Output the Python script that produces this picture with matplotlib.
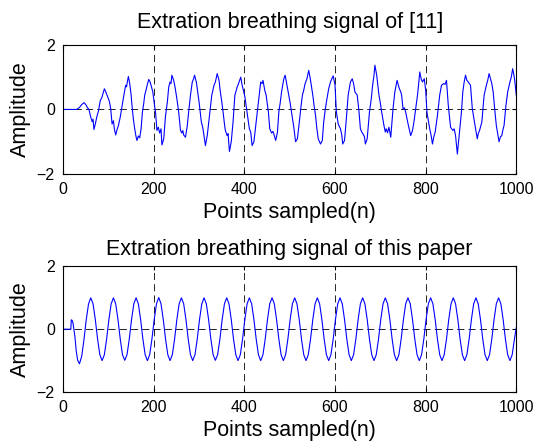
import matplotlib
matplotlib.use("Agg")
import matplotlib.pyplot as plt

# ================= DATA =================

# top panel: breathing signal extracted with the method of [11]
top_n = [
    0, 10, 20, 30, 36, 41, 46, 50, 54, 57, 61, 64, 66, 68, 71, 75, 78, 82, 85, 88,
    91, 94, 98, 102, 105, 108, 111, 113, 116, 119, 122, 126, 130, 134, 138, 140, 142, 144, 147, 150,
    152, 155, 158, 161, 163, 166, 169, 172, 175, 178, 180, 183, 186, 189, 192, 195, 198, 201, 204, 207,
    210, 213, 216, 218, 222, 226, 230, 233, 236, 238, 240, 244, 247, 251, 255, 259, 262, 264, 266, 270,
    274, 277, 281, 285, 288, 290, 294, 297, 300, 305, 308, 310, 314, 318, 320, 323, 328, 333, 336, 340,
    344, 347, 350, 353, 356, 358, 362, 364, 367, 371, 375, 379, 384, 387, 392, 395, 397, 401, 404, 407,
    411, 414, 417, 421, 425, 430, 433, 436, 439, 441, 445, 448, 453, 456, 460, 463, 465, 469, 473, 476,
    479, 482, 487, 490, 494, 498, 501, 504, 509, 513, 517, 520, 522, 525, 528, 531, 534, 538, 542, 546,
    551, 554, 557, 560, 563, 568, 572, 575, 578, 581, 586, 590, 593, 596, 600, 603, 607, 612, 615, 617,
    621, 625, 629, 634, 638, 641, 644, 649, 653, 656, 659, 662, 665, 667, 671, 676, 680, 683, 686, 688,
    692, 695, 697, 700, 703, 708, 711, 713, 716, 719, 723, 728, 732, 737, 742, 745, 747, 750, 753, 756,
    759, 762, 767, 771, 774, 777, 782, 785, 787, 790, 793, 797, 800, 803, 806, 809, 812, 815, 818, 821,
    826, 831, 835, 840, 843, 846, 850, 855, 860, 863, 866, 870, 874, 879, 882, 885, 888, 891, 894, 899,
    903, 906, 909, 914, 916, 919, 924, 929, 934, 937, 940, 943, 946, 949, 953, 956, 959, 962, 965, 968,
    971, 973, 977, 981, 986, 989, 992, 995, 997, 1000,
]
top_v = [
    0.00, 0.00, 0.00, 0.00, 0.06, 0.15, 0.21, 0.15, 0.05, 0.00, -0.24, -0.38, -0.30, -0.62, -0.45, -0.19, -0.05, 0.28, 0.35, 0.50,
    0.64, 0.55, 0.40, 0.25, 0.02, -0.45, -0.35, -0.60, -0.79, -0.62, -0.50, -0.24, 0.10, 0.44, 0.75, 0.70, 0.88, 1.02, 0.80, 0.45,
    0.12, -0.30, -0.60, -0.85, -0.96, -0.82, -0.88, -0.60, -0.08, 0.20, 0.44, 0.60, 0.78, 0.93, 0.85, 0.70, 0.54, 0.20, -0.10, -0.65,
    -0.55, -0.73, -0.60, -1.10, -0.91, -0.19, 0.23, 0.69, 0.85, 0.80, 1.06, 0.90, 0.69, 0.33, -0.08, -0.65, -0.73, -0.65, -0.79, -0.86,
    -0.50, -0.08, 0.44, 0.85, 0.95, 1.06, 0.85, 0.55, 0.23, -0.39, -0.55, -0.73, -1.12, -0.81, -0.55, -0.19, 0.44, 0.75, 0.85, 1.11,
    0.90, 0.54, 0.25, -0.08, -0.45, -0.65, -0.81, -0.75, -1.30, -1.00, -0.39, 0.44, 0.69, 0.80, 1.00, 0.75, 0.64, 0.40, 0.10, -0.20,
    -0.60, -0.70, -1.12, -1.00, -0.50, 0.12, 0.50, 0.85, 0.80, 0.90, 0.59, 0.44, -0.08, -0.60, -0.73, -0.68, -0.76, -0.96, -0.70, -0.08,
    0.20, 0.54, 0.95, 1.06, 0.75, 0.44, 0.20, -0.08, -0.55, -1.00, -0.91, -0.55, -0.29, 0.10, 0.44, 0.60, 0.80, 0.95, 1.21, 0.90,
    0.44, 0.10, -0.19, -0.60, -0.91, -1.07, -0.96, -0.39, -0.05, 0.23, 0.64, 0.85, 0.95, 1.04, 0.75, -0.08, -0.45, -0.60, -0.80, -1.07,
    -0.96, -0.29, 0.44, 0.85, 0.95, 0.80, 0.54, 0.44, -0.08, -0.60, -0.70, -0.76, -0.85, -1.07, -0.91, -0.08, 0.33, 0.75, 1.05, 1.37,
    1.06, 0.70, 0.44, 0.20, -0.08, -0.50, -0.70, -0.60, -0.72, -0.55, -0.86, 0.02, 0.54, 0.90, 0.64, 0.55, 0.44, 0.02, 0.05, -0.08,
    -0.30, -0.50, -0.81, -0.65, -0.40, -0.08, 0.44, 0.85, 1.16, 0.95, 0.85, 0.95, 0.60, -0.10, -0.35, -0.60, -0.80, -1.07, -0.85, -0.70,
    -0.19, 0.44, 0.75, 0.80, 0.78, 0.90, 0.12, -0.55, -0.65, -0.60, -0.81, -1.38, -0.81, -0.08, 0.54, 0.85, 1.06, 0.90, 0.85, 0.75,
    0.02, -0.25, -0.50, -0.91, -0.75, -0.65, -0.39, 0.44, 0.75, 0.90, 1.11, 0.95, 0.80, 0.54, -0.08, -0.50, -0.75, -1.00, -0.85, -0.81,
    -0.60, -0.50, 0.10, 0.54, 0.85, 1.00, 1.26, 1.05, 0.85, 0.44,
]

# bottom panel: breathing signal extracted with this paper's method
bot_n = [
    0, 17, 18, 20, 22, 26, 29, 32,
    36, 41, 46, 51, 56, 61, 66, 71, 76, 81,
    86, 91, 96, 101, 106, 111, 116, 121, 126, 131,
    136, 141, 146, 151, 156, 161, 166, 171, 176, 181,
    186, 191, 196, 201, 206, 211, 216, 221, 226, 231,
    236, 241, 246, 251, 256, 261, 266, 271, 276, 281,
    286, 291, 296, 301, 306, 311, 316, 321, 326, 331,
    336, 341, 346, 351, 356, 361, 366, 371, 376, 381,
    386, 391, 396, 401, 406, 411, 416, 421, 426, 431,
    436, 441, 446, 451, 456, 461, 466, 471, 476, 481,
    486, 491, 496, 501, 506, 511, 516, 521, 526, 531,
    536, 541, 546, 551, 556, 561, 566, 571, 576, 581,
    586, 591, 596, 601, 606, 611, 616, 621, 626, 631,
    636, 641, 646, 651, 656, 661, 666, 671, 676, 681,
    686, 691, 696, 701, 706, 711, 716, 721, 726, 731,
    736, 741, 746, 751, 756, 761, 766, 771, 776, 781,
    786, 791, 796, 801, 806, 811, 816, 821, 826, 831,
    836, 841, 846, 851, 856, 861, 866, 871, 876, 881,
    886, 891, 896, 901, 906, 911, 916, 921, 926, 931,
    936, 941, 946, 951, 956, 961, 966, 971, 976, 981,
    986, 991, 996, 1000,
]
bot_v = [
    0.00, 0.00, 0.30, 0.28, 0.18, -0.24, -0.70, -0.98,
    -1.10, -0.86, -0.33, 0.30, 0.80, 1.00, 0.81, 0.31, -0.31, -0.81,
    -1.00, -0.81, -0.31, 0.31, 0.81, 1.00, 0.81, 0.31, -0.31, -0.81,
    -0.99, -0.81, -0.31, 0.31, 0.81, 1.00, 0.81, 0.31, -0.31, -0.81,
    -1.00, -0.81, -0.31, 0.31, 0.81, 1.01, 0.81, 0.31, -0.31, -0.81,
    -1.00, -0.81, -0.31, 0.31, 0.81, 1.00, 0.81, 0.31, -0.31, -0.81,
    -1.00, -0.81, -0.31, 0.31, 0.81, 1.00, 0.81, 0.31, -0.31, -0.81,
    -0.99, -0.81, -0.31, 0.31, 0.81, 1.00, 0.81, 0.31, -0.31, -0.81,
    -1.00, -0.81, -0.31, 0.31, 0.81, 1.00, 0.81, 0.31, -0.31, -0.81,
    -1.00, -0.81, -0.31, 0.31, 0.81, 1.00, 0.81, 0.31, -0.31, -0.81,
    -1.00, -0.81, -0.31, 0.31, 0.81, 1.00, 0.81, 0.31, -0.31, -0.81,
    -1.00, -0.81, -0.31, 0.31, 0.81, 1.00, 0.81, 0.31, -0.31, -0.81,
    -1.00, -0.81, -0.31, 0.31, 0.81, 1.00, 0.81, 0.31, -0.31, -0.81,
    -1.00, -0.81, -0.31, 0.31, 0.81, 1.00, 0.81, 0.31, -0.31, -0.81,
    -1.00, -0.81, -0.31, 0.31, 0.81, 1.00, 0.81, 0.31, -0.31, -0.81,
    -1.00, -0.81, -0.31, 0.31, 0.81, 1.00, 0.81, 0.31, -0.31, -0.81,
    -1.00, -0.81, -0.31, 0.31, 0.81, 1.00, 0.81, 0.31, -0.31, -0.81,
    -1.00, -0.81, -0.31, 0.31, 0.81, 1.00, 0.81, 0.31, -0.31, -0.81,
    -1.00, -0.81, -0.31, 0.31, 0.81, 1.00, 0.81, 0.31, -0.31, -0.81,
    -1.00, -0.81, -0.31, 0.31, 0.81, 1.00, 0.81, 0.31, -0.31, -0.81,
    -1.00, -0.81, -0.31, 0.05,
]

x_ticks = [0, 200, 400, 600, 800, 1000]
y_ticks = [-2, 0, 2]
titles = ["Extration breathing signal of [11]", "Extration breathing signal of this paper"]

# ================= PLOT =================

plt.rcParams["font.family"] = ["Liberation Sans", "DejaVu Sans"]

fig = plt.figure(figsize=(5.35, 4.44), dpi=100)
ax1 = fig.add_axes([0.118, 0.608, 0.847, 0.291])
ax2 = fig.add_axes([0.118, 0.117, 0.847, 0.283])

for ax, n, v, title in [(ax1, top_n, top_v, titles[0]), (ax2, bot_n, bot_v, titles[1])]:
    ax.plot(n, v, color="#0000ff", linewidth=0.8)
    ax.set_xlim(0, 1000)
    ax.set_ylim(-2, 2)
    ax.set_xticks(x_ticks)
    ax.set_yticks(y_ticks)
    ax.grid(True, color="k", linestyle=(0, (8.5, 5)), linewidth=0.6)
    ax.tick_params(direction="in", top=True, right=True, length=3, labelsize=11.5, pad=6)
    ax.set_xlabel("Points sampled(n)", fontsize=15.5, labelpad=3)
    ax.set_ylabel("Amplitude", fontsize=15.5, labelpad=4)
    for s in ax.spines.values():
        s.set_linewidth(0.8)

ax1.set_title(titles[0], fontsize=15.5, pad=12)
ax2.set_title(titles[1], fontsize=15.5, pad=8)

fig.savefig("out.png", dpi=100)
